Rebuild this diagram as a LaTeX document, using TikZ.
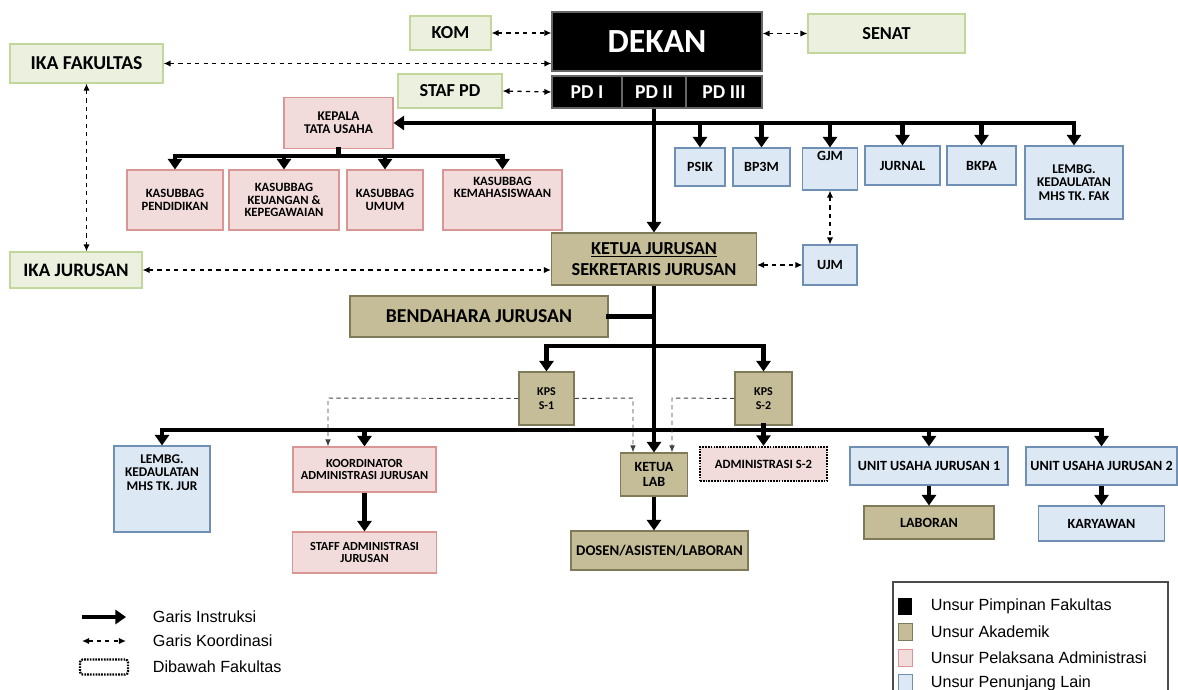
\documentclass[tikz,border=0pt]{standalone}
\usepackage{fontspec}
\setmainfont{Carlito}
\newfontfamily\legfont{Liberation Sans}
\usetikzlibrary{arrows.meta,positioning}
\definecolor{hijaufill}{HTML}{EBF1DE}
\definecolor{hijaugaris}{HTML}{C3D69B}
\definecolor{merahfill}{HTML}{F2DCDB}
\definecolor{merahgaris}{HTML}{D99694}
\definecolor{birufill}{HTML}{DCE9F5}
\definecolor{birugaris}{HTML}{6F8FB5}
\definecolor{coklatfill}{HTML}{C4BD97}
\definecolor{coklatgaris}{HTML}{7F7A5A}
\tikzset{
  wh/.style 2 args={minimum width=#1*0.025cm, minimum height=#2*0.025cm},
  fs/.style={font=\fontsize{#1}{#1}\selectfont\bfseries},
  kotak/.style={draw, align=center, inner sep=1pt, line width=0.8pt},
  hijau/.style={kotak, fill=hijaufill, draw=hijaugaris},
  merah/.style={kotak, fill=merahfill, draw=merahgaris},
  biru/.style={kotak, fill=birufill, draw=birugaris},
  coklat/.style={kotak, fill=coklatfill, draw=coklatgaris},
  hitam/.style={kotak, fill=black, draw=black!60, text=white},
  instr/.style={line width=3.5pt, -{Triangle[length=7.5pt,width=10pt]}},
  bar/.style={line width=3.5pt, line cap=rect},
  koor/.style={line width=0.9pt, dash pattern=on 3pt off 3pt,
    {Latex[length=5pt,width=4.5pt]}-{Latex[length=5pt,width=4.5pt]}},
  koorsatu/.style={line width=0.7pt, black!75, dash pattern=on 3pt off 2.5pt,
    -{Latex[length=5pt,width=4pt]}},
  legtext/.style={anchor=west, font=\legfont\fontsize{11.5}{12}\selectfont}
}
\begin{document}
\begin{tikzpicture}[x=0.025cm,y=-0.025cm]
\useasboundingbox (0,0) rectangle (1178,690);

\node[hitam, wh={210}{59}, fs=24] (dekan) at (657,41.5) {DEKAN};
\node[hitam, wh={70}{32}, fs=14] (pd1) at (587,92) {PD I};
\node[hitam, wh={64}{32}, fs=14] (pd2) at (654,92) {PD II};
\node[hitam, wh={76}{32}, fs=14] (pd3) at (724,92) {PD III};
\node[hijau, wh={81}{34}, fs=13] (kom) at (450.5,33) {KOM};
\node[hijau, wh={157}{39}, fs=13] (senat) at (886.5,33.5) {SENAT};
\node[hijau, wh={153}{39}, fs=14] (ikafak) at (86.5,63.5) {IKA FAKULTAS};
\node[hijau, wh={104}{34}, fs=13] (stafpd) at (450,91) {STAF PD};
\node[hijau, wh={132}{36}, fs=13.5] (ikajur) at (76,270) {IKA JURUSAN};

\node[merah, wh={109}{51}, fs=9.5] (ktu) at (338.5,123) {KEPALA\\TATA USAHA};
\node[merah, wh={96}{60}, fs=9] (k1) at (175,200) {KASUBBAG\\PENDIDIKAN};
\node[merah, wh={110}{60}, fs=9] (k2) at (284,200) {KASUBBAG\\KEUANGAN \&\\KEPEGAWAIAN};
\node[merah, wh={76}{60}, fs=9] (k3) at (385,200) {KASUBBAG\\UMUM};
\node[merah, wh={119}{60}, fs=9] (k4) at (502.5,200) {KASUBBAG\\KEMAHASISWAAN\\[9pt]};

\node[biru, wh={50}{38}, fs=10] (psik) at (700,167) {PSIK};
\node[biru, wh={57}{38}, fs=10] (bp3m) at (761.5,167) {BP3M};
\node[biru, wh={55}{42}, fs=10] (gjm) at (830,169) {GJM\\[9pt]};
\node[biru, wh={75}{39}, fs=10] (jurnal) at (902.5,165.5) {JURNAL};
\node[biru, wh={69}{39}, fs=10] (bkpa) at (981.5,165.5) {BKPA};
\node[biru, wh={98}{73}, fs=9.5] (lembfak) at (1074,182.5) {LEMBG.\\KEDAULATAN\\MHS TK. FAK};
\node[biru, wh={54}{40}, fs=10] (ujm) at (830,265) {UJM};

\node[coklat, wh={205}{52}, fs=13] (ketuaj) at (654,259) {\underline{KETUA JURUSAN}\\[2pt]SEKRETARIS JURUSAN};
\node[coklat, wh={258}{41}, fs=14] (bendahara) at (479,316.5) {BENDAHARA JURUSAN};
\node[coklat, wh={55}{53}, fs=8.5] (kps1) at (546.5,398.5) {KPS\\[1pt]S-1};
\node[coklat, wh={57}{53}, fs=8.5] (kps2) at (763.5,398.5) {KPS\\[1pt]S-2};

\node[biru, wh={96}{86}, fs=9.5] (lembjur) at (162,489) {LEMBG.\\KEDAULATAN\\MHS TK. JUR\\[14pt]};
\node[merah, wh={143}{45}, fs=8.8] (koord) at (364.5,469.5) {KOORDINATOR\\ADMINISTRASI JURUSAN};
\node[merah, wh={144}{41}, fs=8.8] (staff) at (364.5,552.5) {STAFF ADMINISTRASI\\JURUSAN};
\node[coklat, wh={67}{43}, fs=10] (ketualab) at (654,474.5) {KETUA\\[1pt]LAB};
\node[coklat, wh={177}{39}, fs=10.5] (dosen) at (659.5,550.5) {DOSEN/ASISTEN/LABORAN};
\node[merah, wh={127}{34}, fs=9, draw=black, line width=1.6pt, dash pattern=on 1.2pt off 0.8pt] (adm2) at (763.5,464) {ADMINISTRASI S-2};
\node[biru, wh={158}{38}, fs=10] (unit1) at (929,466) {UNIT USAHA JURUSAN 1};
\node[coklat, wh={130}{33}, fs=10] (laboran) at (929,522.5) {LABORAN};
\node[biru, wh={151}{38}, fs=10] (unit2) at (1101.5,466) {UNIT USAHA JURUSAN 2};
\node[biru, wh={126}{35}, fs=10] (karyawan) at (1101.5,523.5) {KARYAWAN};

\coordinate (bus1) at (654,123);
\coordinate (bus2) at (338.5,156);
\coordinate (bus3) at (654,346);
\coordinate (bus4) at (654,430);
\draw[bar] (bus1 -| lembfak.north) -- (bus1);
\draw[instr] (bus1) -- (ktu.east);
\foreach \n in {psik,bp3m,gjm,jurnal,bkpa,lembfak}
  \draw[instr] (bus1 -| \n.north) -- (\n.north);
\draw[instr] (pd2.south) -- (ketuaj.north);
\draw[bar] (ktu.south) -- (bus2);
\draw[bar] (bus2 -| k1.north) -- (bus2 -| k4.north);
\foreach \n in {k1,k2,k3,k4}
  \draw[instr] (bus2 -| \n.north) -- (\n.north);
\draw[bar] (bendahara.east) -- (bendahara.east -| ketuaj.south);
\draw[instr] (ketuaj.south) -- (ketualab.north);
\draw[bar] (bus3 -| kps1.north) -- (bus3 -| kps2.north);
\draw[instr] (bus3 -| kps1.north) -- (kps1.north);
\draw[instr] (bus3 -| kps2.north) -- (kps2.north);
\draw[bar] (bus4 -| lembjur.north) -- (bus4 -| unit2.north);
\foreach \n in {lembjur,koord,unit1,unit2}
  \draw[instr] (bus4 -| \n.north) -- (\n.north);
\draw[bar] (kps2.south) -- (bus4 -| kps2.south);
\draw[instr] (bus4 -| adm2.north) -- (adm2.north);
\draw[instr] (koord.south) -- (staff.north);
\draw[instr] (ketualab.south) -- (ketualab.south |- dosen.north);
\draw[instr] (unit1.south) -- (laboran.north);
\draw[instr] (unit2.south) -- (karyawan.north);

\draw[koor] (kom.east) -- (kom.east -| dekan.west);
\draw[koor] (dekan.east |- senat.west) -- (senat.west);
\draw[koor] (ikafak.east) -- (ikafak.east -| dekan.west);
\draw[koor] (stafpd.east) -- (pd1.west);
\draw[koor] (ikafak.south) -- (ikafak.south |- ikajur.north);
\draw[koor] (ikajur.east) -- (ikajur.east -| ketuaj.west);
\draw[koor] (ujm.west -| ketuaj.east) -- (ujm.west);
\draw[koor] (gjm.south) -- (ujm.north);

\coordinate (d1) at (328,398);
\coordinate (d2) at (633,398);
\coordinate (d3) at (672,398);
\draw[koorsatu] (kps1.west) -- (d1) -- (d1 |- koord.north);
\draw[koorsatu] (kps1.east) -- (d2) -- (d2 |- ketualab.north);
\draw[koorsatu] (kps2.west) -- (d3) -- (d3 |- ketualab.north);

\coordinate (la1) at (82,617);
\coordinate (la2) at (126,617);
\coordinate (lb1) at (82,641);
\coordinate (lb2) at (126,641);
\draw[instr, line width=3pt] (la1) -- (la2);
\draw[koor] (lb1) -- (lb2);
\node[draw, wh={48}{15}, rounded corners=2pt, line width=1.6pt, dash pattern=on 1.2pt off 0.8pt] (ldot) at (104,667) {};
\node[legtext] (lt1) at (148,617) {Garis Instruksi};
\node[legtext] (lt2) at (148,641) {Garis Koordinasi};
\node[legtext] (lt3) at (148,667) {Dibawah Fakultas};

\node[draw=black!70, line width=0.8pt, wh={275}{125}] (legbox) at (1030.5,644.5) {};
\node[fill=black, wh={14}{17}, inner sep=0pt] (sq1) at (905,606) {};
\node[coklat, line width=0.5pt, wh={14}{17}, inner sep=0pt] (sq2) at (905,632) {};
\node[merah, line width=0.5pt, wh={14}{17}, inner sep=0pt] (sq3) at (905,658) {};
\node[biru, line width=0.5pt, wh={14}{17}, inner sep=0pt] (sq4) at (905,683) {};
\node[legtext] (ut1) at (926,606) {Unsur Pimpinan Fakultas};
\node[legtext] (ut2) at (926,632) {Unsur Akademik};
\node[legtext] (ut3) at (926,658) {Unsur Pelaksana Administrasi};
\node[legtext] (ut4) at (926,683) {Unsur Penunjang Lain};
\end{tikzpicture}
\end{document}
